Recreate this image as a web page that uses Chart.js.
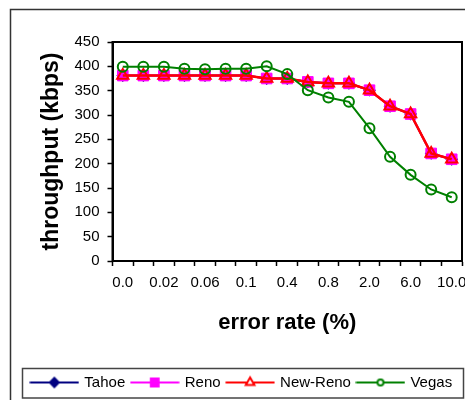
<!DOCTYPE html>
<html><head><meta charset="utf-8">
<script src="https://cdn.jsdelivr.net/npm/chart.js@4"></script>
<style>html,body{margin:0;padding:0;background:#fff}canvas{display:block}</style>
</head><body>
<canvas id="c" width="465" height="400"></canvas>
<script>
// ---- data ----
const errorRates = ['0.0','0.01','0.02','0.04','0.06','0.08','0.1','0.2','0.4','0.6','0.8','1.0','2.0','4.0','6.0','8.0','10.0'];
const tahoe   = [381,381,381,381,381,381,381,375,375,368,365,365,351,318,302,221,209];
const reno    = [381,381,381,381,381,381,381,375,375,368,365,365,351,318,302,221,209];
const newReno = [381,381,381,381,381,381,381,375,375,368,365,365,351,318,302,221,209];
const vegas   = [399,399,399,395,394,395,395,400,384,351,336,327,273,214,177,147,131];
const seriesNames = ['Tahoe','Reno','New-Reno','Vegas'];
const yAxisTitle = 'throughput (kbps)';
const xAxisTitle = 'error rate (%)';

const FONT = "'Liberation Sans', Arial, sans-serif";

const styles = [
  {color:'#000080', fill:'#000080', pointStyle:'rectRot', radius:5, lw:2, legendRadius:4.5},
  {color:'#FF00FF', fill:'#FF00FF', pointStyle:'rect', radius:7.5, lw:2, legendRadius:5.5},
  {color:'#FF0000', fill:'rgba(0,0,0,0)', pointStyle:'triangle', radius:6.5, lw:2.5, legendRadius:5},
  {color:'#008000', fill:'rgba(0,0,0,0)', pointStyle:'circle', radius:5, lw:2, legendRadius:3}
];
const seriesData = [tahoe, reno, newReno, vegas];

function legendImage(st){
  const cv = document.createElement('canvas');
  cv.width = 50; cv.height = 16;
  const ctx = cv.getContext('2d');
  ctx.strokeStyle = st.color; ctx.lineWidth = 2;
  ctx.beginPath(); ctx.moveTo(0.5, 8); ctx.lineTo(49.5, 8); ctx.stroke();
  ctx.fillStyle = st.fill === 'rgba(0,0,0,0)' ? '#ffffff' : st.fill;
  ctx.strokeStyle = st.color; ctx.lineWidth = 2;
  Chart.helpers.drawPoint(ctx, {pointStyle: st.pointStyle, radius: st.legendRadius, borderWidth: 2, rotation: 0}, 25, 8);
  return cv;
}
const legendImages = styles.map(legendImage);

const framePlugin = {
  id: 'frames',
  beforeDraw(chart){
    const ctx = chart.ctx;
    ctx.save();
    ctx.fillStyle = '#fff';
    ctx.fillRect(0, 0, chart.width, chart.height);
    ctx.strokeStyle = '#333'; ctx.lineWidth = 1.5;
    ctx.strokeRect(10.5, 9.5, chart.width + 10, chart.height + 10);
    const lg = chart.legend;
    ctx.strokeStyle = '#444'; ctx.lineWidth = 1.5;
    ctx.strokeRect(lg.left + 0.5, lg.top + 0.5, lg.right - lg.left + 1, lg.bottom - lg.top - 2.5);
    ctx.restore();
  },
  beforeDatasetsDraw(chart){
    const a = chart.chartArea, ctx = chart.ctx;
    ctx.save();
    ctx.strokeStyle = '#000'; ctx.lineWidth = 2;
    ctx.strokeRect(a.left, a.top, a.right - a.left, a.bottom - a.top);
    ctx.restore();
  }
};

new Chart(document.getElementById('c'), {
  type: 'line',
  data: {
    labels: errorRates,
    datasets: seriesNames.map((n, i) => ({
      label: n,
      data: seriesData[i],
      borderColor: styles[i].color,
      backgroundColor: styles[i].fill,
      borderWidth: styles[i].lw,
      pointStyle: styles[i].pointStyle,
      pointRadius: styles[i].radius,
      pointBorderWidth: i === 1 ? 1 : 2,
      pointBackgroundColor: styles[i].fill,
      pointBorderColor: styles[i].color,
      tension: 0,
      fill: false,
      order: 4 - i
    }))
  },
  options: {
    responsive: false,
    animation: false,
    devicePixelRatio: 1,
    layout: {autoPadding: false, padding: {left: 22, right: 3, top: 42, bottom: 0}},
    plugins: {
      tooltip: {enabled: false},
      legend: {
        position: 'bottom',
        labels: {
          usePointStyle: true,
          pointStyleWidth: 45,
          padding: 7,
          color: '#000',
          font: {family: FONT, size: 15},
          sort: (a, b) => a.datasetIndex - b.datasetIndex,
          generateLabels: (chart) => Chart.defaults.plugins.legend.labels.generateLabels(chart)
            .map(l => Object.assign({}, l, {pointStyle: legendImages[l.datasetIndex], rotation: 0}))
        }
      }
    },
    scales: {
      x: {
        type: 'category',
        offset: true,
        grid: {offset: true, drawOnChartArea: false, drawTicks: true, tickLength: 5, tickColor: '#000', tickWidth: 1.5},
        border: {display: true, color: '#000', width: 2},
        ticks: {
          autoSkip: false, maxRotation: 0, minRotation: 0, padding: 8, color: '#000',
          font: {family: FONT, size: 15},
          callback: function(v, i){ return i % 2 === 0 ? this.getLabelForValue(v) : ''; }
        },
        title: {display: true, text: xAxisTitle, color: '#000', font: {family: FONT, size: 22, weight: 'bold'}, padding: {top: 0, bottom: 32}},
        afterFit(s){ s.height = 107; s.paddingLeft = 0; s.paddingRight = 0; }
      },
      y: {
        min: 0, max: 450,
        grid: {drawOnChartArea: false, drawTicks: true, tickLength: 5, tickColor: '#000', tickWidth: 1.5},
        border: {display: true, color: '#000', width: 2},
        ticks: {stepSize: 50, padding: 8, color: '#000', font: {family: FONT, size: 15}},
        title: {display: true, text: yAxisTitle, color: '#000', font: {family: FONT, size: 23, weight: 'bold'}, padding: {top: 16, bottom: 0}},
        afterFit(s){ s.width = 90.5; s.paddingTop = 0; s.paddingBottom = 0; }
      }
    }
  },
  plugins: [framePlugin]
});
</script>
</body></html>
